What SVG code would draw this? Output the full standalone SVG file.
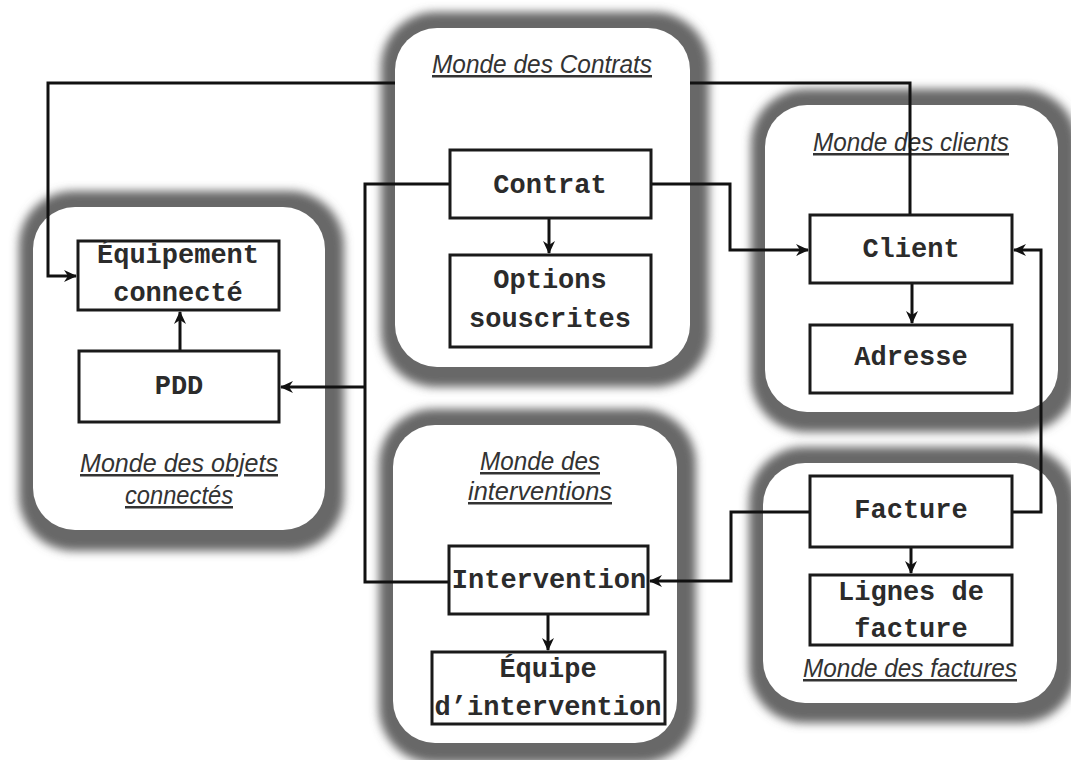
<svg xmlns="http://www.w3.org/2000/svg" width="1071" height="760" viewBox="0 0 1071 760">
<style>
.halo{fill:#676767;filter:url(#blur)}
.world{fill:#ffffff}
.box{fill:#ffffff;stroke:#1a1a1a;stroke-width:3}
.lbl{font-family:"Liberation Mono","Courier New",monospace;font-weight:bold;font-size:27px;fill:#2b2b2b;text-anchor:middle}
.ttl{font-family:"Liberation Sans",Arial,sans-serif;font-style:italic;font-size:25px;fill:#333;text-decoration:underline}
.con{fill:none;stroke:#111;stroke-width:3}
</style>
<defs>
<filter id="blur" x="-15%" y="-15%" width="130%" height="130%"><feGaussianBlur stdDeviation="5"/></filter>
<marker id="arr" markerUnits="userSpaceOnUse" markerWidth="14" markerHeight="14" refX="12" refY="7" orient="auto">
<path d="M0,1 L13,7 L0,13 L4,7 z" fill="#111"/>
</marker>
</defs>
<rect width="1071" height="760" fill="#fff"/>

<g id="world-objets">
<rect class="halo" x="19" y="191" width="325" height="360" rx="55"/>
<rect class="world" x="33" y="207" width="292" height="323" rx="42"/>
<text class="ttl" x="80" y="472" textLength="198" lengthAdjust="spacingAndGlyphs">Monde  des objets</text>
<text class="ttl" x="125" y="504" textLength="108" lengthAdjust="spacingAndGlyphs">connectés</text>
</g>
<g id="world-contrats">
<rect class="halo" x="381" y="12" width="328" height="375" rx="55"/>
<rect class="world" x="395" y="28" width="295" height="339" rx="42"/>
<text class="ttl" x="432" y="73" textLength="220" lengthAdjust="spacingAndGlyphs">Monde des Contrats</text>
</g>
<g id="world-clients">
<rect class="halo" x="751" y="89" width="326" height="343" rx="55"/>
<rect class="world" x="765" y="105" width="293" height="307" rx="42"/>
<text class="ttl" x="813" y="151" textLength="196" lengthAdjust="spacingAndGlyphs">Monde des clients</text>
</g>
<g id="world-interventions">
<rect class="halo" x="379" y="409" width="317" height="354" rx="55"/>
<rect class="world" x="393" y="425" width="284" height="318" rx="42"/>
<text class="ttl" x="480" y="470" textLength="120" lengthAdjust="spacingAndGlyphs">Monde des</text>
<text class="ttl" x="468" y="500" textLength="144" lengthAdjust="spacingAndGlyphs">interventions</text>
</g>
<g id="world-factures">
<rect class="halo" x="749" y="447" width="327" height="276" rx="55"/>
<rect class="world" x="763" y="463" width="294" height="240" rx="42"/>
<text class="ttl" x="803" y="677" textLength="214" lengthAdjust="spacingAndGlyphs">Monde des factures</text>
</g>

<g id="connectors">
<path class="con" d="M910,215 V83 H690 M395,83 H48 V276 H76" marker-end="url(#arr)"/>
<path class="con" d="M651,184 H730 V250 H808" marker-end="url(#arr)"/>
<path class="con" d="M450,184 H365 V582 H449"/>
<path class="con" d="M365,387 H281" marker-end="url(#arr)"/>
<path class="con" d="M810,512 H731 V581 H650" marker-end="url(#arr)"/>
<path class="con" d="M1012,512 H1041 V250 H1014" marker-end="url(#arr)"/>
<path class="con" d="M180,351 V312" marker-end="url(#arr)"/>
<path class="con" d="M549,218 V253" marker-end="url(#arr)"/>
<path class="con" d="M912,283 V323" marker-end="url(#arr)"/>
<path class="con" d="M548,614 V650" marker-end="url(#arr)"/>
<path class="con" d="M911,547 V573" marker-end="url(#arr)"/>
</g>

<g id="node-equipement">
<rect class="box" x="78" y="241" width="201" height="69"/>
<text class="lbl" x="178" y="263">Équipement</text>
<text class="lbl" x="178" y="301">connecté</text>
</g>
<g id="node-pdd">
<rect class="box" x="79" y="351" width="200" height="71"/>
<text class="lbl" x="179" y="394">PDD</text>
</g>
<g id="node-contrat">
<rect class="box" x="450" y="150" width="201" height="68"/>
<text class="lbl" x="550" y="193">Contrat</text>
</g>
<g id="node-options">
<rect class="box" x="450" y="255" width="201" height="92"/>
<text class="lbl" x="550" y="288">Options</text>
<text class="lbl" x="550" y="327">souscrites</text>
</g>
<g id="node-client">
<rect class="box" x="810" y="215" width="202" height="68"/>
<text class="lbl" x="911" y="257">Client</text>
</g>
<g id="node-adresse">
<rect class="box" x="810" y="325" width="202" height="68"/>
<text class="lbl" x="911" y="365">Adresse</text>
</g>
<g id="node-intervention">
<rect class="box" x="449" y="546" width="199" height="68"/>
<text class="lbl" x="549" y="588">Intervention</text>
</g>
<g id="node-equipe">
<rect class="box" x="432" y="652" width="233" height="72"/>
<text class="lbl" x="548" y="677">Équipe</text>
<text class="lbl" x="548" y="715">d’intervention</text>
</g>
<g id="node-facture">
<rect class="box" x="810" y="476" width="202" height="71"/>
<text class="lbl" x="911" y="518">Facture</text>
</g>
<g id="node-lignes">
<rect class="box" x="810" y="575" width="202" height="70"/>
<text class="lbl" x="911" y="600">Lignes de</text>
<text class="lbl" x="911" y="637">facture</text>
</g>
</svg>
